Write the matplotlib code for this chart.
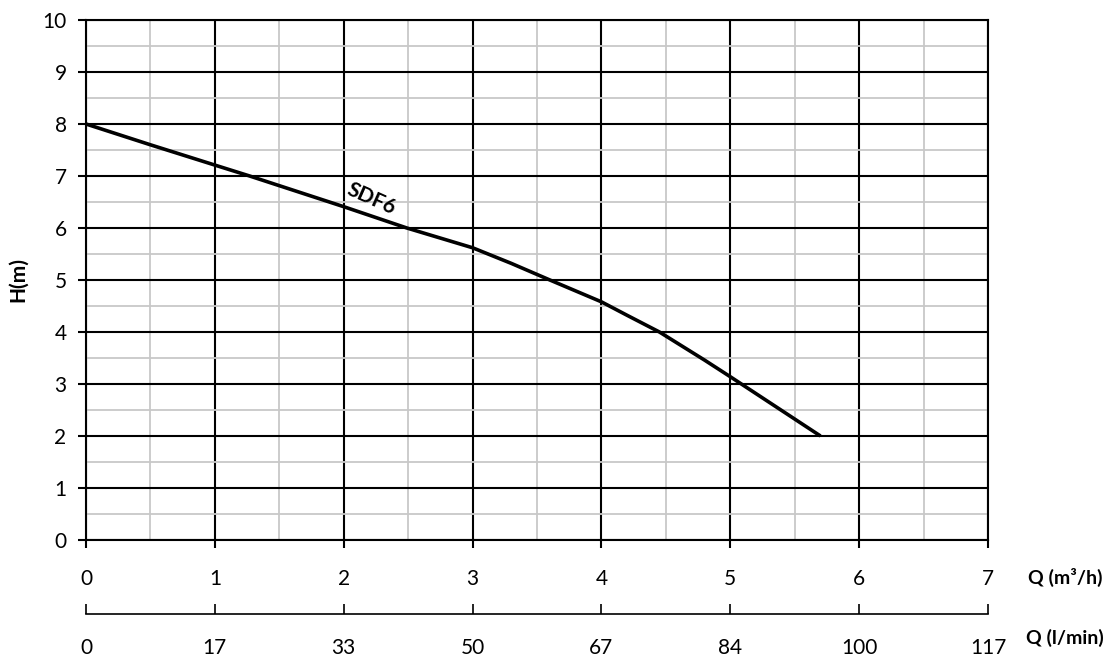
import numpy as np
import matplotlib.pyplot as plt
from matplotlib.ticker import MultipleLocator

plt.rcParams['font.family'] = ['Lato', 'DejaVu Sans']

# Pump curve SDF6
q_m3h = [0, 0.5, 1, 1.27, 2, 2.49, 3, 3.3, 3.6, 4, 4.2, 4.45, 4.8, 5, 5.35, 5.7]
h_m = [8.0, 7.6, 7.21, 7.0, 6.41, 6.0, 5.62, 5.32, 5.0, 4.58, 4.32, 4.0, 3.46, 3.14, 2.57, 2.0]

q_ticks = [0, 1, 2, 3, 4, 5, 6, 7]
lmin_labels = ['0', '17', '33', '50', '67', '84', '100', '117']

# Figure
fig = plt.figure(figsize=(11.19, 6.65), dpi=100)
ax = fig.add_axes([86 / 1119, 1 - 540 / 665, (988 - 86) / 1119, 520 / 665])

ax.plot(q_m3h, h_m, color='black', lw=2.6, solid_capstyle='butt', solid_joinstyle='round', zorder=5)
ax.text(2.0, 6.55, 'SDF6', rotation=-24, fontsize=15, fontweight='bold',
        ha='left', va='center', zorder=6)

ax.set_xlim(0, 7)
ax.set_ylim(0, 10)
ax.xaxis.set_major_locator(MultipleLocator(1))
ax.yaxis.set_major_locator(MultipleLocator(1))
ax.xaxis.set_minor_locator(MultipleLocator(0.5))
ax.yaxis.set_minor_locator(MultipleLocator(0.5))
ax.grid(which='minor', color='#c8c8c8', lw=1.3, zorder=1)
ax.grid(which='major', color='black', lw=1.5, zorder=2)
ax.set_axisbelow(True)
for s in ax.spines.values():
    s.set_linewidth(1.5)
ax.tick_params(which='major', direction='out', length=6, width=1.5, labelsize=15, color='black')
ax.tick_params(axis='x', which='major', pad=15)
ax.tick_params(axis='y', which='major', pad=8)
ax.tick_params(which='minor', length=0)
ax.set_ylabel('H(m)', fontsize=15, fontweight='bold', labelpad=10)

# Secondary l/min axis
sec = ax.secondary_xaxis(-(614 - 540) / 520)
sec.set_xticks(q_ticks, labels=lmin_labels)
sec.tick_params(direction='in', length=7, width=1.2, labelsize=15, pad=17)
sec.spines['bottom'].set_linewidth(1.2)

fig.text(1065 / 1119, 1 - 577 / 665, 'Q (m³/h)', fontsize=14, fontweight='bold', ha='center', va='center')
fig.text(1065 / 1119, 1 - 638 / 665, 'Q (l/min)', fontsize=14, fontweight='bold', ha='center', va='center')

plt.savefig('out.png', dpi=100)
